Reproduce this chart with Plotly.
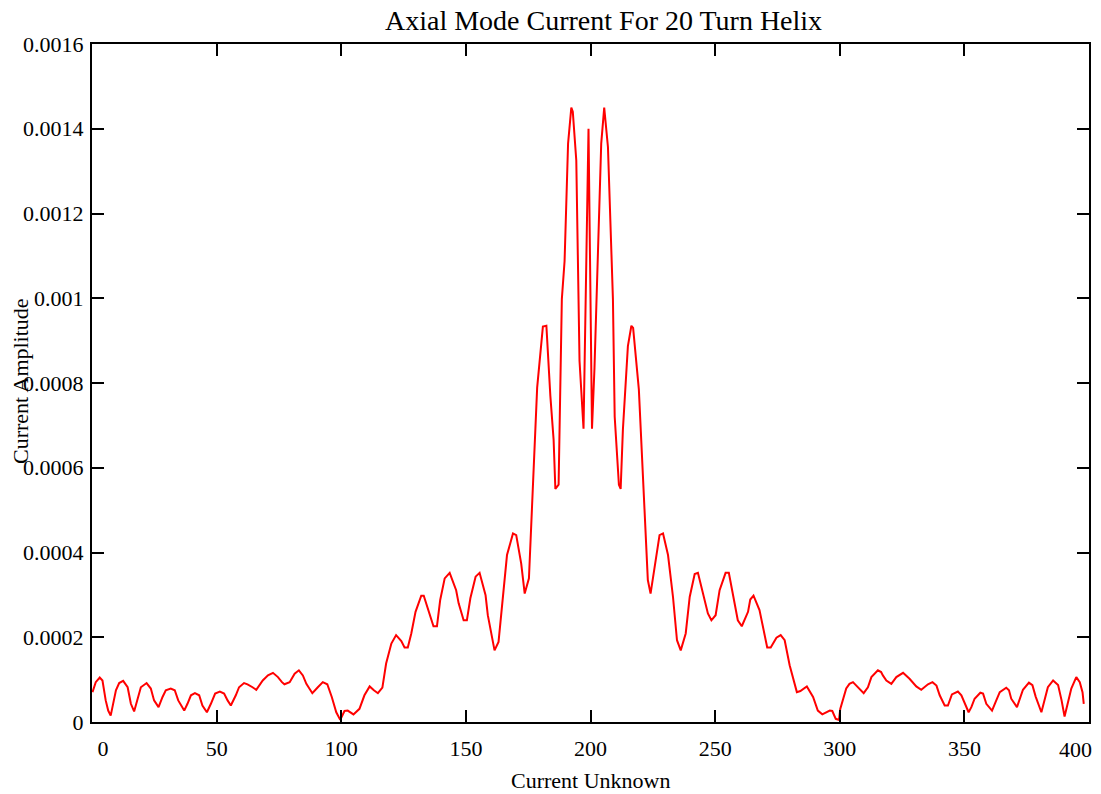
import plotly.graph_objects as go

# Current distribution along the helix: unknown index vs. current amplitude,
# kept as three stretches (left tail, central lobes, right tail).
left_index = [
    0.2, 1.5, 3.1, 4.2, 5.5, 6.5, 7.5, 9.6, 10.9, 12.5, 14.3, 15.6, 16.9, 18.3, 19.6,
    21.9, 23.6, 24.9, 26.7, 28.3, 29.6, 31.6, 33.2, 34.6, 37.0, 38.3, 39.7, 41.3, 43.0,
    44.3, 46.1, 47.7, 49.4, 51.3, 53.0, 54.4, 55.7, 57.7, 59.0, 61.0, 62.4, 64.4, 65.9,
    68.5, 70.6, 72.6, 74.6, 76.2, 77.2, 79.3, 81.3, 83.0, 84.6, 86.0, 88.4, 90.6, 92.6,
    94.4, 96.2, 98.0, 99.6, 101.3, 102.6, 104.9, 107.3, 109.3, 111.4, 113.1, 114.7, 116.5,
]
left_amplitude = [
    7.05e-5, 9.4e-5, 1.05e-4, 9.8e-5, 5.1e-5, 2.7e-5, 1.5e-5, 7.5e-5, 9.2e-5, 9.7e-5,
    8.2e-5, 4.3e-5, 2.5e-5, 5.5e-5, 8.2e-5, 9.2e-5, 7.9e-5, 5.1e-5, 3.5e-5, 5.9e-5,
    7.5e-5, 7.9e-5, 7.5e-5, 5.1e-5, 2.7e-5, 4.3e-5, 6.3e-5, 6.8e-5, 6.3e-5, 3.9e-5,
    2.3e-5, 4.3e-5, 6.7e-5, 7.2e-5, 6.7e-5, 5.1e-5, 3.9e-5, 6.3e-5, 8.2e-5, 9.2e-5,
    8.9e-5, 8.2e-5, 7.6e-5, 9.8e-5, 1.10e-4, 1.16e-4, 1.06e-4, 9.4e-5, 8.9e-5, 9.4e-5,
    1.14e-4, 1.22e-4, 1.10e-4, 9.0e-5, 6.8e-5, 8.2e-5, 9.4e-5, 8.9e-5, 5.9e-5, 2.3e-5,
    5.0e-6, 2.6e-5, 2.7e-5, 1.8e-5, 3.1e-5, 6.3e-5, 8.4e-5, 7.5e-5, 6.8e-5, 8.1e-5,
]

center_index = [
    118.0, 120.1, 122.0, 124.1, 125.4, 126.7, 128.1, 129.8, 132.1, 133.1, 134.8, 136.1,
    137.0, 138.4, 139.7, 141.5, 143.5, 146.1, 147.1, 149.1, 150.4, 151.8, 153.9, 155.5,
    157.9, 158.8, 160.2, 161.5, 163.1, 164.8, 166.5, 168.9, 170.2, 172.2, 173.6, 175.3,
    176.9, 178.6, 180.9, 182.3, 183.9, 185.2, 185.9, 187.2, 188.5, 189.6, 191.0, 192.3,
    192.9, 194.3, 195.6, 197.2, 199.2, 200.6, 201.6, 203.0, 204.3, 205.5, 207.0, 209.0,
    209.7, 211.4, 212.1, 213.0, 215.0, 216.4, 217.1, 219.4, 221.3, 223.0, 224.1, 226.1,
    227.7, 229.1, 231.1, 233.1, 234.7, 236.2, 238.2, 239.8, 241.8, 243.1, 245.1, 247.1,
    248.5, 250.2, 251.8, 254.2, 255.5, 257.4, 259.1, 260.7, 263.2, 264.1, 265.4, 267.8,
    269.2, 270.9, 272.3, 274.6, 276.3, 277.9,
]
center_amplitude = [
    1.38e-4, 1.85e-4, 2.05e-4, 1.91e-4, 1.76e-4, 1.76e-4, 2.09e-4, 2.60e-4, 2.98e-4, 2.98e-4,
    2.64e-4, 2.44e-4, 2.26e-4, 2.26e-4, 2.88e-4, 3.39e-4, 3.52e-4, 3.11e-4, 2.80e-4, 2.40e-4,
    2.40e-4, 2.92e-4, 3.43e-4, 3.52e-4, 2.99e-4, 2.52e-4, 2.09e-4, 1.69e-4, 1.89e-4, 2.88e-4,
    3.94e-4, 4.45e-4, 4.41e-4, 3.74e-4, 3.03e-4, 3.39e-4, 5.40e-4, 7.89e-4, 9.33e-4, 9.35e-4,
    7.69e-4, 6.66e-4, 5.50e-4, 5.60e-4, 9.98e-4, 1.088e-3, 1.365e-3, 1.450e-3, 1.440e-3,
    1.325e-3, 8.52e-4, 6.92e-4, 1.400e-3, 6.92e-4, 8.36e-4, 1.128e-3, 1.365e-3, 1.450e-3,
    1.357e-3, 9.98e-4, 7.21e-4, 5.60e-4, 5.50e-4, 6.90e-4, 8.87e-4, 9.35e-4, 9.30e-4,
    7.85e-4, 5.40e-4, 3.35e-4, 3.03e-4, 3.74e-4, 4.41e-4, 4.45e-4, 3.94e-4, 2.95e-4,
    1.93e-4, 1.69e-4, 2.09e-4, 2.95e-4, 3.49e-4, 3.52e-4, 3.07e-4, 2.56e-4, 2.40e-4,
    2.52e-4, 3.11e-4, 3.52e-4, 3.52e-4, 2.88e-4, 2.40e-4, 2.26e-4, 2.60e-4, 2.89e-4,
    2.98e-4, 2.64e-4, 2.24e-4, 1.76e-4, 1.76e-4, 1.99e-4, 2.05e-4, 1.93e-4,
]

right_index = [
    279.9, 282.8, 284.2, 286.8, 289.3, 291.2, 293.0, 296.0, 297.0, 298.4, 299.7, 300.2,
    302.6, 303.9, 305.3, 307.3, 309.6, 311.3, 312.7, 315.3, 316.6, 317.3, 318.7, 320.7,
    322.7, 325.4, 328.0, 330.7, 332.7, 335.4, 337.2, 338.8, 340.1, 342.1, 343.4, 345.0,
    347.4, 348.8, 350.1, 351.7, 352.8, 354.1, 356.4, 357.5, 358.8, 361.1, 362.8, 364.2,
    366.8, 367.9, 368.8, 371.1, 373.5, 375.9, 377.3, 378.6, 380.9, 382.2, 383.5, 385.6,
    387.6, 389.0, 390.2, 391.6, 392.9, 394.9, 396.3, 397.4, 397.9,
]
right_amplitude = [
    1.34e-4, 7.05e-5, 7.3e-5, 8.4e-5, 5.9e-5, 2.7e-5, 1.8e-5, 2.7e-5, 2.6e-5, 7.5e-6,
    5.0e-6, 3.1e-5, 7.9e-5, 9.0e-5, 9.4e-5, 8.2e-5, 6.8e-5, 8.2e-5, 1.06e-4, 1.22e-4,
    1.18e-4, 1.10e-4, 9.8e-5, 9.0e-5, 1.06e-4, 1.16e-4, 1.02e-4, 8.4e-5, 7.6e-5, 8.9e-5,
    9.4e-5, 8.6e-5, 6.3e-5, 3.9e-5, 3.9e-5, 6.5e-5, 7.2e-5, 6.3e-5, 4.3e-5, 2.3e-5,
    3.5e-5, 5.5e-5, 6.9e-5, 6.7e-5, 4.3e-5, 2.7e-5, 5.1e-5, 7.05e-5, 8.1e-5, 7.5e-5,
    5.5e-5, 3.5e-5, 7.6e-5, 9.3e-5, 8.7e-5, 6.0e-5, 2.3e-5, 5.1e-5, 8.2e-5, 9.8e-5,
    8.7e-5, 5.1e-5, 1.3e-5, 4.7e-5, 7.9e-5, 1.06e-4, 9.4e-5, 7.05e-5, 4.3e-5,
]

unknown_index = left_index + center_index + right_index
current_amplitude = left_amplitude + center_amplitude + right_amplitude

x_tick_values = [0, 50, 100, 150, 200, 250, 300, 350, 400]
# the first label carries an em space so it sits just inside the frame;
# the last one is drawn separately, tucked left of the right edge
x_tick_labels = ["\u20030", "50", "100", "150", "200", "250", "300", "350", ""]
x_last_label = "400"
y_tick_values = [0, 0.0002, 0.0004, 0.0006, 0.0008, 0.001, 0.0012, 0.0014, 0.0016]
y_tick_labels = ["0", "0.0002", "0.0004", "0.0006", "0.0008", "0.001",
                 "0.0012", "0.0014", "0.0016"]

SERIF = "Liberation Serif, Times New Roman, serif"

fig = go.Figure(
    go.Scatter(
        x=unknown_index,
        y=current_amplitude,
        mode="lines",
        line=dict(color="#ff0000", width=2),
        showlegend=False,
    )
)

axis_style = dict(
    showline=True,
    linecolor="black",
    linewidth=2,
    mirror="ticks",
    ticks="inside",
    ticklen=12,
    tickwidth=2,
    tickcolor="black",
    showgrid=False,
    zeroline=False,
    automargin=False,
    tickfont=dict(family=SERIF, size=22, color="black"),
)

fig.update_xaxes(range=[0, 400], tickvals=x_tick_values, ticktext=x_tick_labels,
                 ticklabelstandoff=6, **axis_style)
fig.update_yaxes(range=[0, 0.0016], tickvals=y_tick_values, ticktext=y_tick_labels,
                 ticklabelstandoff=2, **axis_style)

fig.update_layout(
    width=1101,
    height=794,
    margin=dict(l=92, r=12, t=44, b=72, autoexpand=False),
    plot_bgcolor="white",
    paper_bgcolor="white",
    font=dict(family=SERIF, color="black"),
    annotations=[
        dict(text="Axial Mode Current For 20 Turn Helix", xref="paper", yref="paper",
             x=(603 - 92) / 997, y=1 + (44 - 21) / 678, showarrow=False,
             xanchor="center", yanchor="middle", font=dict(family=SERIF, size=28)),
        dict(text=x_last_label, xref="paper", yref="paper",
             x=(1075 - 92) / 997, y=-(749 - 722) / 678, showarrow=False,
             xanchor="center", yanchor="middle", font=dict(family=SERIF, size=22)),
        dict(text="Current Unknown", xref="paper", yref="paper",
             x=(590 - 92) / 997, y=-(780 - 722) / 678, showarrow=False,
             xanchor="center", yanchor="middle", font=dict(family=SERIF, size=22)),
        dict(text="Current Amplitude", xref="paper", yref="paper",
             x=-(92 - 20) / 997, y=(722 - 381) / 678, showarrow=False, textangle=-90,
             xanchor="center", yanchor="middle", font=dict(family=SERIF, size=22)),
    ],
)

fig.write_html("out.html")
